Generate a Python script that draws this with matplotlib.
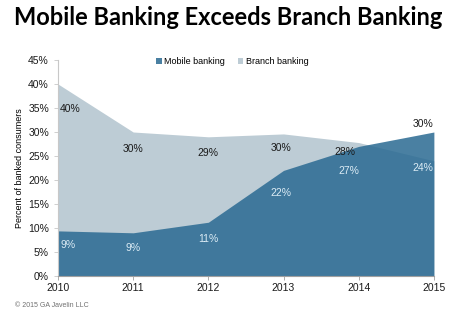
import numpy as np
import matplotlib.pyplot as plt

# data
years = [2010, 2011, 2012, 2013, 2014, 2015]
branch = [40, 30, 29, 29.6, 27.8, 24]
mobile = [9.4, 9, 11.2, 22, 27, 30]
branch_lbl = ['40%', '30%', '29%', '30%', '28%', '24%']
mobile_lbl = ['9%', '9%', '11%', '22%', '27%', '30%']

# label offsets (points)
branch_off = [(9, -18), (0, -12), (0, -12), (-2, -10), (-10, -7), (-8, -5)]
mobile_off = [(7, -10), (0, -11), (0, -12), (-2, -16), (-7, -18), (-8, 6)]

fig = plt.figure(figsize=(4.77, 3.16), dpi=100)
ax = fig.add_axes([0.1216, 0.1266, 0.788, 0.6835])

branch_col = '#bdccd5'
mobile_col = '#2a6a92'

ax.fill_between(years, 0, branch, color=branch_col, lw=0, label='Branch banking')
ax.fill_between(years, 0, mobile, color=mobile_col, alpha=0.85, lw=0, label='Mobile banking')

for i, (x, y, t, o) in enumerate(zip(years, branch, branch_lbl, branch_off)):
    c = '#dcecf5' if i == 5 else '#1a1a1a'
    ax.annotate(t, (x, y), xytext=o, textcoords='offset points', ha='center', va='center',
                fontsize=7.5, color=c, family='Liberation Sans')
for i, (x, y, t, o) in enumerate(zip(years, mobile, mobile_lbl, mobile_off)):
    c = '#1a1a1a' if i == 5 else '#dcecf5'
    ax.annotate(t, (x, y), xytext=o, textcoords='offset points', ha='center', va='center',
                fontsize=7.5, color=c, family='Liberation Sans')

ax.set_xlim(2010, 2015)
ax.set_ylim(0, 45)
ax.set_xticks(years)
ax.set_yticks(np.arange(0, 46, 5))
ax.set_yticklabels(['%d%%' % v for v in range(0, 46, 5)])
for s in ['top', 'right']:
    ax.spines[s].set_visible(False)
ax.spines['left'].set_color('#c8c8c8')
ax.spines['bottom'].set_color('#a0a0a0')
ax.tick_params(axis='both', labelsize=7.5, colors='#1a1a1a', length=3, width=0.6)
ax.tick_params(axis='y', color='#c8c8c8')
ax.tick_params(axis='x', color='#a0a0a0', pad=2)
for lab in ax.get_xticklabels() + ax.get_yticklabels():
    lab.set_family('Liberation Sans')

ax.set_ylabel('Percent of banked consumers', fontsize=6.5, family='Liberation Sans', labelpad=3)

h, l = ax.get_legend_handles_labels()
leg = ax.legend(h[::-1], l[::-1], loc='upper left', bbox_to_anchor=(0.24, 1.05), ncol=2,
                frameon=False, handlelength=0.6, handleheight=0.6,
                handletextpad=0.3, columnspacing=1.4, prop={'family': 'Liberation Sans', 'size': 6.5})

fig.text(0.029, 0.946, 'Mobile Banking Exceeds Branch Banking', fontsize=17,
         fontweight='bold', family='Lato', va='center', ha='left')
fig.text(0.031, 0.032, '\u00a9 2015 GA Javelin LLC', fontsize=5, color='#707070',
         family='Liberation Sans', va='center')

plt.savefig('out.png', dpi=100)
